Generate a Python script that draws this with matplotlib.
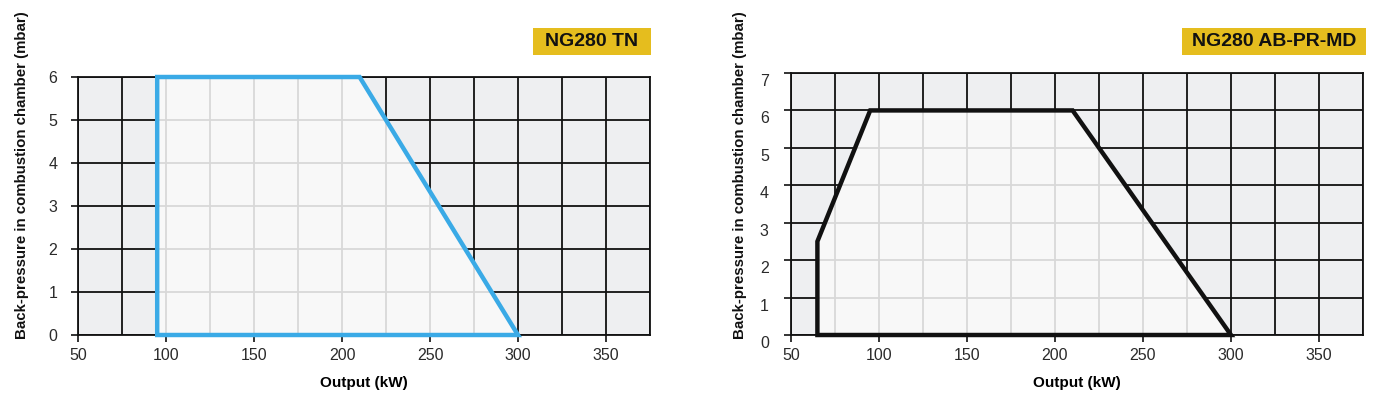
import matplotlib
matplotlib.use("Agg")
import matplotlib.pyplot as plt
from matplotlib.patches import Polygon, Rectangle
from matplotlib.ticker import MultipleLocator
import matplotlib.transforms as mtrans

plt.rcParams['font.family'] = ['Liberation Sans', 'DejaVu Sans']

# Data
tn_output = [95, 95, 210, 300]
tn_pressure = [0, 6, 6, 0]
md_output = [65, 65, 95, 210, 300]
md_pressure = [0, 2.5, 6, 6, 0]
titles = ["NG280 TN", "NG280 AB-PR-MD"]
x_ticks = [50, 100, 150, 200, 250, 300, 350]
ylabel = "Back-pressure in combustion chamber (mbar)"
xlabel = "Output (kW)"

W, H = 1387, 397
fig = plt.figure(figsize=(W / 100, H / 100), dpi=100)

OUT_BG = "#eeeff1"
IN_BG = "#f8f8f8"
IN_GRID = "#d8d8d8"
YELLOW = "#e5bd1e"


def make_panel(rect, xs, ys, ymax, color, title, title_box, ylab_x, label_shift, ypad):
    ax = fig.add_axes(rect)
    ax.set_xlim(50, 375)
    ax.set_ylim(0, ymax)
    ax.set_facecolor(OUT_BG)
    ax.set_xticks(x_ticks)
    ax.set_yticks(range(0, ymax + 1))
    ax.xaxis.set_minor_locator(MultipleLocator(25))
    ax.grid(which='both', color='#111111', lw=1.3, zorder=0)
    ax.set_axisbelow(True)
    ax.tick_params(axis='both', which='major', length=5, width=1.2,
                   color='#111111', labelsize=11.5, labelcolor='#2a2a2a')
    ax.tick_params(axis='x', which='major', pad=4)
    ax.tick_params(axis='y', which='major', pad=ypad)
    ax.tick_params(axis='both', which='minor', length=0)
    for s in ax.spines.values():
        s.set_color('#111111')
        s.set_linewidth(1.3)
    if label_shift:
        off = mtrans.ScaledTranslation(0, -label_shift / 100, fig.dpi_scale_trans)
        for lab in ax.get_yticklabels():
            lab.set_transform(lab.get_transform() + off)

    pts = list(zip(xs, ys))
    poly = Polygon(pts, closed=True, facecolor=IN_BG, edgecolor='none', zorder=1)
    ax.add_patch(poly)
    # light grid clipped inside polygon
    gx = [50 + 25 * i for i in range(14)]
    vl = ax.vlines(gx, 0, ymax, colors=IN_GRID, lw=1.3, zorder=1.5)
    hl = ax.hlines(list(range(0, ymax + 1)), 50, 375, colors=IN_GRID, lw=1.3, zorder=1.5)
    vl.set_clip_path(poly)
    hl.set_clip_path(poly)
    ax.add_patch(Polygon(pts, closed=True, facecolor='none', edgecolor=color,
                         lw=3.2, joinstyle='miter', zorder=3, clip_on=False))

    ax.set_xlabel(xlabel, fontsize=11, fontweight='bold', labelpad=10)
    fig.text(ylab_x / W, 1 - 175 / H, ylabel, rotation=90, ha='center', va='center',
             fontsize=10.8, fontweight='bold', color='#111111')

    # title box
    x0, y0, x1, y1 = title_box
    fig.patches.append(Rectangle((x0 / W, 1 - y1 / H), (x1 - x0) / W, (y1 - y0) / H,
                                 transform=fig.transFigure, facecolor=YELLOW,
                                 edgecolor='none'))
    fig.text((x0 + x1) / 2 / W, 1 - (y0 + y1) / 2 / H, title, ha='center', va='center',
             fontsize=14, fontweight='bold', color='#111111')
    return ax


ax1 = make_panel([78 / W, 1 - 335 / H, 572 / W, (335 - 77) / H],
                 tn_output, tn_pressure, 6, "#3aaae6", titles[0],
                 (533, 28, 651, 55), 22, 0, 10)
ax2 = make_panel([791 / W, 1 - 335 / H, 572 / W, (335 - 73) / H],
                 md_output, md_pressure, 7, "#111111", titles[1],
                 (1182, 28, 1366, 55), 740, 7, 11)

fig.savefig("out.png", dpi=100)
